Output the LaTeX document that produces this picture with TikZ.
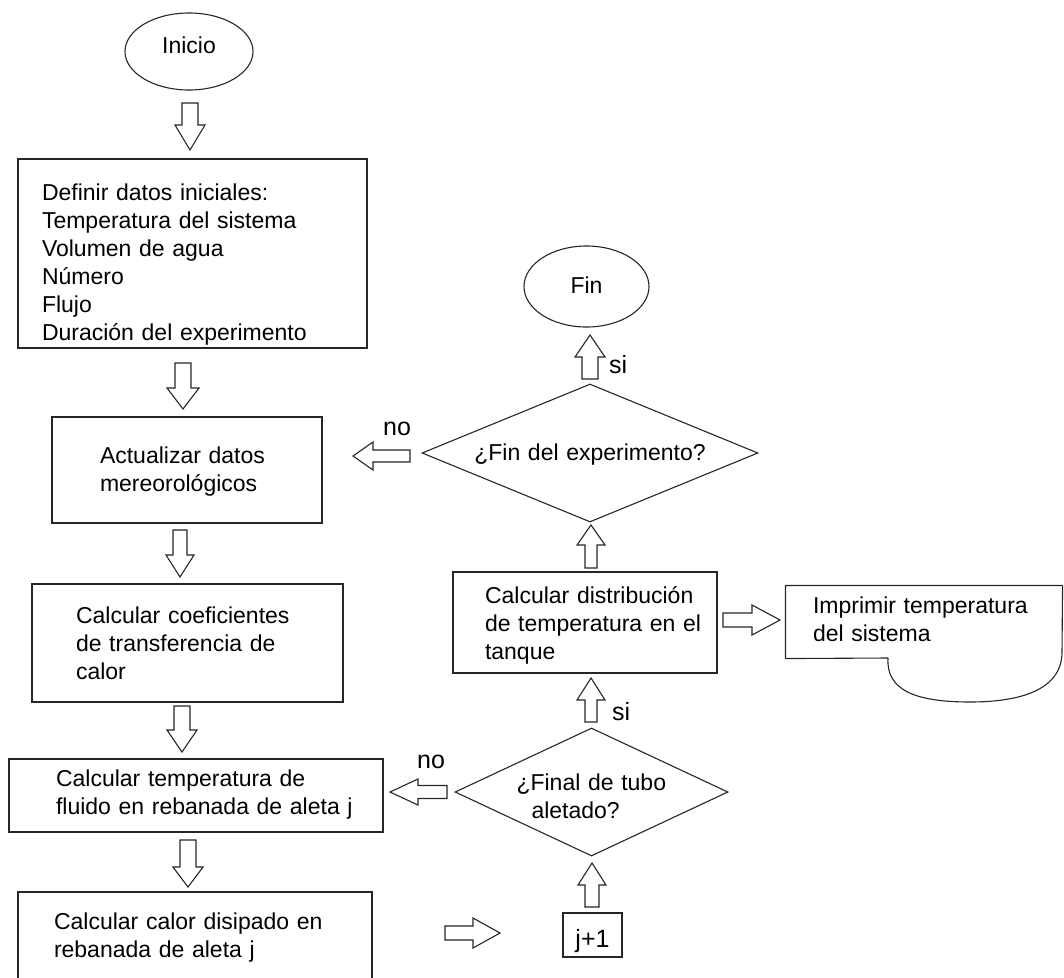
\documentclass[tikz,border=0pt]{standalone}
\usepackage{fontspec}
\setmainfont{Liberation Sans}
\usetikzlibrary{shapes.geometric}
\tikzset{
  blk/.style={draw=black!85, line width=1.1pt, line join=miter},
  box/.style={draw=black!85, line width=1.1pt, rectangle, inner ysep=0pt, align=left,
    font=\fontsize{23}{28}\selectfont},
  term/.style={draw=black!85, line width=1.1pt, ellipse, inner sep=0pt,
    font=\fontsize{23}{28}\selectfont},
  decide/.style={draw=black!85, line width=1.1pt, diamond, inner sep=0pt,
    font=\fontsize{23}{28}\selectfont},
  lbl/.style={inner sep=0pt, anchor=base west, font=\fontsize{25}{28}\selectfont},
  pics/barrow/.style n args={4}{code={%
    \draw[blk] (0,-#3) -- (#1-#2,-#3) -- (#1-#2,-#4) -- (#1,0) -- (#1-#2,#4) -- (#1-#2,#3) -- (0,#3) -- cycle;}},
}
\begin{document}
\begin{tikzpicture}[x=1pt,y=-1pt]
\useasboundingbox (0,0) rectangle (1064,977);

% left column
\node[term, minimum width=128pt, minimum height=77pt, text height=17pt, text depth=14pt] (ini) at (189,51.5) {Inicio};

\node[box, text width=301pt, inner xsep=24pt, text height=41pt, text depth=148pt] (def) at (192.5,253.5)
  {Definir datos iniciales:\\Temperatura del sistema\\Volumen de agua\\Número\\Flujo\\\mbox{Duración del experimento}};

\node[box, text width=174pt, inner xsep=48pt, text height=46pt, text depth=60pt] (act) at (187,470)
  {\mbox{Actualizar datos}\\\mbox{mereorológicos}};

\node[box, text width=223pt, inner xsep=44pt, text height=39pt, text depth=79pt] (coef) at (187.5,643)
  {\mbox{Calcular coeficientes}\\\mbox{de transferencia de}\\calor};

\node[box, text width=280pt, inner xsep=47pt, text height=27pt, text depth=46pt] (temp) at (196,795.5)
  {\mbox{Calcular temperatura de}\\\mbox{fluido en rebanada de aleta j}};

\node[box, text width=282pt, inner xsep=36pt, text height=37pt, text depth=71pt] (calor) at (195,946)
  {\mbox{Calcular calor disipado en}\\\mbox{rebanada de aleta j}};

% right column
\node[term, minimum width=125pt, minimum height=81pt, text height=17pt, text depth=4pt] (fin) at (586.5,286.5) {Fin};

\node[decide, aspect=2.43, minimum width=336pt, minimum height=138pt, text width=232pt, align=center,
  text height=16pt, text depth=2pt] (d1) at (590,453) {\mbox{¿Fin del experimento?}};

\node[box, text width=200pt, inner xsep=32pt, text height=31pt, text depth=70pt] (dist) at (585,622.5)
  {\mbox{Calcular distribución}\\\mbox{de temperatura en el}\\tanque};

\node[box, draw=none, text width=222pt, inner xsep=27pt, text height=27pt, text depth=45pt] (imp) at (924,622)
  {\mbox{Imprimir temperatura}\\del sistema};
\draw[blk] (888,658) -- (imp.south west) -- (imp.north west) -- (imp.north east) -- (1062,652)
  .. controls (1062,690) and (1020,702) .. (970,702)
  .. controls (915,702) and (886,690) .. (888,658);

\node[decide, aspect=2.13, minimum width=273pt, minimum height=128pt, text width=150pt, align=left,
  text height=16pt, text depth=20pt] (d2) at (591.5,792) {\mbox{¿Final de tubo}\\\hspace*{15pt}aletado?};

\node[box, font=\fontsize{25}{28}\selectfont, text width=36pt, align=center, inner xsep=11.5pt,
  text height=34pt, text depth=10pt] (jp) at (592.5,935) {j+1};

% block arrows (down)
\pic[rotate=-90] at (190,103) {barrow={47}{25}{8}{15}};
\pic[rotate=-90] at (183,363) {barrow={46}{21}{8}{16}};
\pic[rotate=-90] at (180,530) {barrow={47}{22}{7}{14}};
\pic[rotate=-90] at (182,706) {barrow={46}{22}{8}{15}};
\pic[rotate=-90] at (188,840) {barrow={47}{20}{8}{15}};
% block arrows (up)
\pic[rotate=90] at (590,379) {barrow={44}{22}{8}{15}};
\pic[rotate=90] at (591,568) {barrow={43}{20}{6}{14}};
\pic[rotate=90] at (591,722) {barrow={44}{22}{6}{14}};
\pic[rotate=90] at (592,907) {barrow={44}{22}{7}{14}};
% block arrows (left)
\pic[rotate=180] at (410,456) {barrow={57}{20}{6}{14}};
\pic[rotate=180] at (447,792) {barrow={57}{28}{6.5}{13}};
% block arrows (right)
\pic at (723,620) {barrow={57}{28}{7}{15}};
\pic at (445,933) {barrow={55}{27}{7}{15}};

% labels
\node[lbl] (no1) at (383,435) {no};
\node[lbl] (no2) at (417,768) {no};
\node[lbl] (si1) at (609,373) {si};
\node[lbl] (si2) at (612,720) {si};
\end{tikzpicture}
\end{document}
